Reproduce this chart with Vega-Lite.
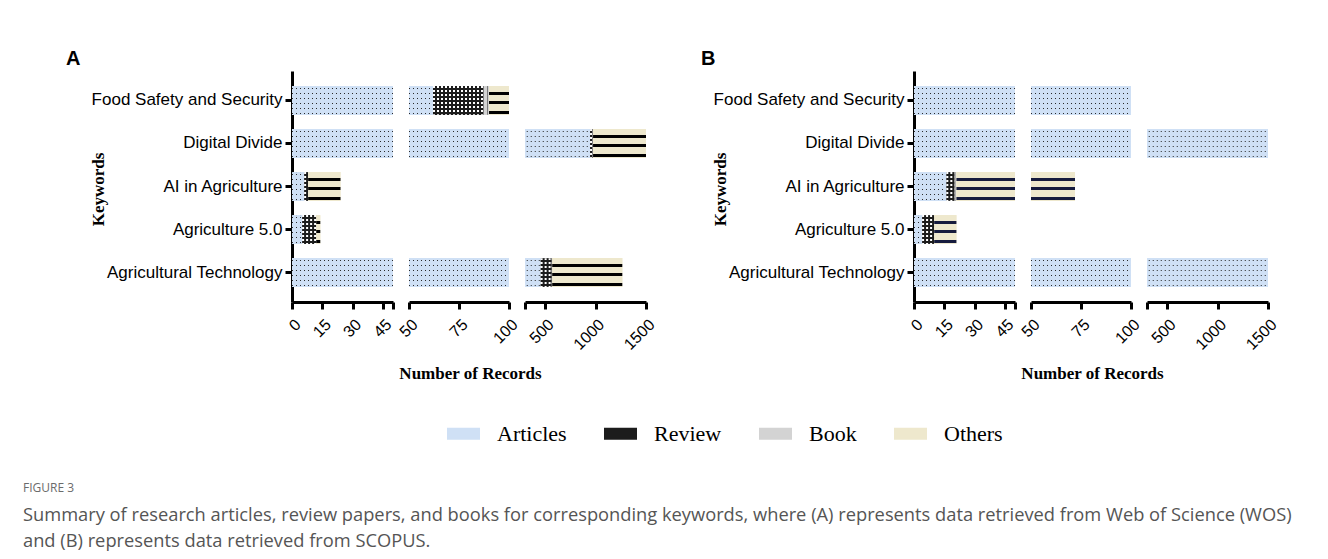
{
  "$schema": "https://vega.github.io/schema/vega-lite/v6.json",
  "background": "white",
  "padding": {"left": 23, "top": 49, "right": 5, "bottom": 5},
  "datasets": {
    "records": [
      {"panel": "A", "keyword": "Food Safety and Security", "type": "Articles", "count": 62},
      {"panel": "A", "keyword": "Food Safety and Security", "type": "Review", "count": 25},
      {"panel": "A", "keyword": "Food Safety and Security", "type": "Book", "count": 3},
      {"panel": "A", "keyword": "Food Safety and Security", "type": "Others", "count": 10},
      {"panel": "A", "keyword": "Digital Divide", "type": "Articles", "count": 945},
      {"panel": "A", "keyword": "Digital Divide", "type": "Review", "count": 20},
      {"panel": "A", "keyword": "Digital Divide", "type": "Book", "count": 10},
      {"panel": "A", "keyword": "Digital Divide", "type": "Others", "count": 525},
      {"panel": "A", "keyword": "AI in Agriculture", "type": "Articles", "count": 6},
      {"panel": "A", "keyword": "AI in Agriculture", "type": "Review", "count": 2},
      {"panel": "A", "keyword": "AI in Agriculture", "type": "Others", "count": 16},
      {"panel": "A", "keyword": "Agriculture 5.0", "type": "Articles", "count": 5},
      {"panel": "A", "keyword": "Agriculture 5.0", "type": "Review", "count": 7},
      {"panel": "A", "keyword": "Agriculture 5.0", "type": "Others", "count": 2},
      {"panel": "A", "keyword": "Agricultural Technology", "type": "Articles", "count": 455},
      {"panel": "A", "keyword": "Agricultural Technology", "type": "Review", "count": 110},
      {"panel": "A", "keyword": "Agricultural Technology", "type": "Book", "count": 5},
      {"panel": "A", "keyword": "Agricultural Technology", "type": "Others", "count": 695},
      {"panel": "B", "keyword": "Food Safety and Security", "type": "Articles", "count": 100},
      {"panel": "B", "keyword": "Digital Divide", "type": "Articles", "count": 1500},
      {"panel": "B", "keyword": "AI in Agriculture", "type": "Articles", "count": 16},
      {"panel": "B", "keyword": "AI in Agriculture", "type": "Review", "count": 4},
      {"panel": "B", "keyword": "AI in Agriculture", "type": "Book", "count": 1},
      {"panel": "B", "keyword": "AI in Agriculture", "type": "Others", "count": 51},
      {"panel": "B", "keyword": "Agriculture 5.0", "type": "Articles", "count": 4},
      {"panel": "B", "keyword": "Agriculture 5.0", "type": "Review", "count": 6},
      {"panel": "B", "keyword": "Agriculture 5.0", "type": "Others", "count": 11},
      {"panel": "B", "keyword": "Agricultural Technology", "type": "Articles", "count": 1500}
    ]
  },
  "data": {"name": "records"},
  "transform": [
    {"calculate": "indexof(['Articles','Review','Book','Others'], datum.type)", "as": "ord"},
    {"stack": "count", "groupby": ["panel", "keyword"], "sort": [{"field": "ord", "order": "ascending"}], "as": ["x0", "x1"]}
  ],
  "title": {
    "text": "FIGURE 3",
    "subtitle": ["Summary of research articles, review papers, and books for corresponding keywords, where (A) represents data retrieved from Web of Science (WOS)", "and (B) represents data retrieved from SCOPUS."],
    "orient": "bottom", "anchor": "start", "frame": "bounds",
    "font": "Open Sans", "fontSize": 12, "fontWeight": "normal", "color": "#6b6b6b",
    "subtitleFont": "Open Sans", "subtitleFontSize": 18.3, "subtitleColor": "#555555", "subtitleLineHeight": 26, "subtitlePadding": 12,
    "offset": 38, "dx": -43
  },
  "spacing": 43,
  "hconcat": [
    {
      "title": {"text": "A", "anchor": "start", "frame": "bounds", "font": "Liberation Sans", "fontSize": 20, "fontWeight": "bold", "color": "#000", "baseline": "alphabetic", "offset": -14, "dx": -23},
      "bounds": "flush",
      "spacing": 16,
      "hconcat": [
        {
          "width": 101, "height": 231,
          "transform": [{"filter": "datum.panel === 'A'"}],
          "encoding": {
            "y": {"field": "keyword", "type": "nominal", "sort": ["Food Safety and Security", "Digital Divide", "AI in Agriculture", "Agriculture 5.0", "Agricultural Technology"], "scale": {"paddingInner": 0.33, "paddingOuter": 0.35},
                  "axis": {"title": "Keywords", "titleX": -185, "titleY": 118, "titleAlign": "center", "titleBaseline": "bottom"}},
            "x": {"field": "x0", "type": "quantitative", "scale": {"domain": [0, 50], "nice": false, "zero": false},
                  "axis": {"values": [0, 15, 30, 45, 50], "format": "d", "labelExpr": "datum.value == 50 ? '' : datum.label", "title": null}},
            "x2": {"field": "x1"}
          },
          "layer": [
            {"mark": {"type": "bar", "clip": true}, "encoding": {"color": {"field": "type", "type": "nominal", "scale": {"domain": ["Articles", "Review", "Book", "Others"], "range": ["#cfe0f5", "#1c1c1c", "#d3d3d3", "#eee8cd"]}, "legend": {"orient": "none", "legendX": 155, "legendY": 346, "direction": "horizontal", "title": null}}}},
            {"transform": [{"filter": "datum.type === 'Articles'"}], "mark": {"type": "rule", "clip": true, "strokeWidth": 28.8, "strokeDash": [1, 3], "color": "#2a2a2a"}},
            {"transform": [{"filter": "datum.type === 'Articles'"}], "mark": {"type": "bar", "clip": true, "color": {"gradient": "linear", "x1": 0, "y1": 0, "x2": 0, "y2": 1, "stops": [{"offset": 0, "color": "#cfe0f5"}, {"offset": 0.07, "color": "#cfe0f5"}, {"offset": 0.07, "color": "rgba(207,224,245,0)"}, {"offset": 0.105, "color": "rgba(207,224,245,0)"}, {"offset": 0.105, "color": "#cfe0f5"}, {"offset": 0.24, "color": "#cfe0f5"}, {"offset": 0.24, "color": "rgba(207,224,245,0)"}, {"offset": 0.275, "color": "rgba(207,224,245,0)"}, {"offset": 0.275, "color": "#cfe0f5"}, {"offset": 0.415, "color": "#cfe0f5"}, {"offset": 0.415, "color": "rgba(207,224,245,0)"}, {"offset": 0.45, "color": "rgba(207,224,245,0)"}, {"offset": 0.45, "color": "#cfe0f5"}, {"offset": 0.59, "color": "#cfe0f5"}, {"offset": 0.59, "color": "rgba(207,224,245,0)"}, {"offset": 0.625, "color": "rgba(207,224,245,0)"}, {"offset": 0.625, "color": "#cfe0f5"}, {"offset": 0.76, "color": "#cfe0f5"}, {"offset": 0.76, "color": "rgba(207,224,245,0)"}, {"offset": 0.795, "color": "rgba(207,224,245,0)"}, {"offset": 0.795, "color": "#cfe0f5"}, {"offset": 0.935, "color": "#cfe0f5"}, {"offset": 0.935, "color": "rgba(207,224,245,0)"}, {"offset": 0.97, "color": "rgba(207,224,245,0)"}, {"offset": 0.97, "color": "#cfe0f5"}, {"offset": 1, "color": "#cfe0f5"}]}}},
            {"transform": [{"filter": "datum.type === 'Review'"}], "mark": {"type": "rule", "clip": true, "strokeWidth": 28.8, "strokeDash": [2, 2], "color": "#ffffff"}},
            {"transform": [{"filter": "datum.type === 'Review'"}], "mark": {"type": "bar", "clip": true, "color": {"gradient": "linear", "x1": 0, "y1": 0, "x2": 0, "y2": 1, "stops": [{"offset": 0, "color": "rgba(28,28,28,0)"}, {"offset": 0.069, "color": "rgba(28,28,28,0)"}, {"offset": 0.069, "color": "#1c1c1c"}, {"offset": 0.139, "color": "#1c1c1c"}, {"offset": 0.139, "color": "rgba(28,28,28,0)"}, {"offset": 0.208, "color": "rgba(28,28,28,0)"}, {"offset": 0.208, "color": "#1c1c1c"}, {"offset": 0.278, "color": "#1c1c1c"}, {"offset": 0.278, "color": "rgba(28,28,28,0)"}, {"offset": 0.347, "color": "rgba(28,28,28,0)"}, {"offset": 0.347, "color": "#1c1c1c"}, {"offset": 0.417, "color": "#1c1c1c"}, {"offset": 0.417, "color": "rgba(28,28,28,0)"}, {"offset": 0.486, "color": "rgba(28,28,28,0)"}, {"offset": 0.486, "color": "#1c1c1c"}, {"offset": 0.556, "color": "#1c1c1c"}, {"offset": 0.556, "color": "rgba(28,28,28,0)"}, {"offset": 0.625, "color": "rgba(28,28,28,0)"}, {"offset": 0.625, "color": "#1c1c1c"}, {"offset": 0.694, "color": "#1c1c1c"}, {"offset": 0.694, "color": "rgba(28,28,28,0)"}, {"offset": 0.764, "color": "rgba(28,28,28,0)"}, {"offset": 0.764, "color": "#1c1c1c"}, {"offset": 0.833, "color": "#1c1c1c"}, {"offset": 0.833, "color": "rgba(28,28,28,0)"}, {"offset": 0.903, "color": "rgba(28,28,28,0)"}, {"offset": 0.903, "color": "#1c1c1c"}, {"offset": 0.972, "color": "#1c1c1c"}, {"offset": 0.972, "color": "rgba(28,28,28,0)"}, {"offset": 1, "color": "rgba(28,28,28,0)"}]}}},
            {"transform": [{"filter": "datum.type === 'Book'"}], "mark": {"type": "rule", "clip": true, "strokeWidth": 28.8, "strokeDash": [1, 3], "color": "#7a7a7a"}},
            {"transform": [{"filter": "datum.type === 'Others'"}], "mark": {"type": "bar", "clip": true, "color": {"gradient": "linear", "x1": 0, "y1": 0, "x2": 0, "y2": 1, "stops": [{"offset": 0, "color": "#eee8cd"}, {"offset": 0.19, "color": "#eee8cd"}, {"offset": 0.19, "color": "#000000"}, {"offset": 0.31, "color": "#000000"}, {"offset": 0.31, "color": "#eee8cd"}, {"offset": 0.52, "color": "#eee8cd"}, {"offset": 0.52, "color": "#000000"}, {"offset": 0.63, "color": "#000000"}, {"offset": 0.63, "color": "#eee8cd"}, {"offset": 0.85, "color": "#eee8cd"}, {"offset": 0.85, "color": "#000000"}, {"offset": 0.96, "color": "#000000"}, {"offset": 0.96, "color": "#eee8cd"}, {"offset": 1, "color": "#eee8cd"}]}}}
          ]
        },
        {
          "width": 100, "height": 231,
          "transform": [{"filter": "datum.panel === 'A'"}],
          "encoding": {
            "y": {"field": "keyword", "type": "nominal", "sort": ["Food Safety and Security", "Digital Divide", "AI in Agriculture", "Agriculture 5.0", "Agricultural Technology"], "scale": {"paddingInner": 0.33, "paddingOuter": 0.35}, "axis": null},
            "x": {"field": "x0", "type": "quantitative", "scale": {"domain": [50, 100], "nice": false, "zero": false},
                  "axis": {"values": [50, 75, 100], "format": "d", "title": "Number of Records", "titleX": 61, "titleAlign": "center"}},
            "x2": {"field": "x1"}
          },
          "layer": [
            {"mark": {"type": "bar", "clip": true}, "encoding": {"color": {"field": "type", "type": "nominal", "scale": {"domain": ["Articles", "Review", "Book", "Others"], "range": ["#cfe0f5", "#1c1c1c", "#d3d3d3", "#eee8cd"]}, "legend": {"orient": "none", "legendX": 155, "legendY": 346, "direction": "horizontal", "title": null}}}},
            {"transform": [{"filter": "datum.type === 'Articles'"}], "mark": {"type": "rule", "clip": true, "strokeWidth": 28.8, "strokeDash": [1, 3], "color": "#2a2a2a"}},
            {"transform": [{"filter": "datum.type === 'Articles'"}], "mark": {"type": "bar", "clip": true, "color": {"gradient": "linear", "x1": 0, "y1": 0, "x2": 0, "y2": 1, "stops": [{"offset": 0, "color": "#cfe0f5"}, {"offset": 0.07, "color": "#cfe0f5"}, {"offset": 0.07, "color": "rgba(207,224,245,0)"}, {"offset": 0.105, "color": "rgba(207,224,245,0)"}, {"offset": 0.105, "color": "#cfe0f5"}, {"offset": 0.24, "color": "#cfe0f5"}, {"offset": 0.24, "color": "rgba(207,224,245,0)"}, {"offset": 0.275, "color": "rgba(207,224,245,0)"}, {"offset": 0.275, "color": "#cfe0f5"}, {"offset": 0.415, "color": "#cfe0f5"}, {"offset": 0.415, "color": "rgba(207,224,245,0)"}, {"offset": 0.45, "color": "rgba(207,224,245,0)"}, {"offset": 0.45, "color": "#cfe0f5"}, {"offset": 0.59, "color": "#cfe0f5"}, {"offset": 0.59, "color": "rgba(207,224,245,0)"}, {"offset": 0.625, "color": "rgba(207,224,245,0)"}, {"offset": 0.625, "color": "#cfe0f5"}, {"offset": 0.76, "color": "#cfe0f5"}, {"offset": 0.76, "color": "rgba(207,224,245,0)"}, {"offset": 0.795, "color": "rgba(207,224,245,0)"}, {"offset": 0.795, "color": "#cfe0f5"}, {"offset": 0.935, "color": "#cfe0f5"}, {"offset": 0.935, "color": "rgba(207,224,245,0)"}, {"offset": 0.97, "color": "rgba(207,224,245,0)"}, {"offset": 0.97, "color": "#cfe0f5"}, {"offset": 1, "color": "#cfe0f5"}]}}},
            {"transform": [{"filter": "datum.type === 'Review'"}], "mark": {"type": "rule", "clip": true, "strokeWidth": 28.8, "strokeDash": [2, 2], "color": "#ffffff"}},
            {"transform": [{"filter": "datum.type === 'Review'"}], "mark": {"type": "bar", "clip": true, "color": {"gradient": "linear", "x1": 0, "y1": 0, "x2": 0, "y2": 1, "stops": [{"offset": 0, "color": "rgba(28,28,28,0)"}, {"offset": 0.069, "color": "rgba(28,28,28,0)"}, {"offset": 0.069, "color": "#1c1c1c"}, {"offset": 0.139, "color": "#1c1c1c"}, {"offset": 0.139, "color": "rgba(28,28,28,0)"}, {"offset": 0.208, "color": "rgba(28,28,28,0)"}, {"offset": 0.208, "color": "#1c1c1c"}, {"offset": 0.278, "color": "#1c1c1c"}, {"offset": 0.278, "color": "rgba(28,28,28,0)"}, {"offset": 0.347, "color": "rgba(28,28,28,0)"}, {"offset": 0.347, "color": "#1c1c1c"}, {"offset": 0.417, "color": "#1c1c1c"}, {"offset": 0.417, "color": "rgba(28,28,28,0)"}, {"offset": 0.486, "color": "rgba(28,28,28,0)"}, {"offset": 0.486, "color": "#1c1c1c"}, {"offset": 0.556, "color": "#1c1c1c"}, {"offset": 0.556, "color": "rgba(28,28,28,0)"}, {"offset": 0.625, "color": "rgba(28,28,28,0)"}, {"offset": 0.625, "color": "#1c1c1c"}, {"offset": 0.694, "color": "#1c1c1c"}, {"offset": 0.694, "color": "rgba(28,28,28,0)"}, {"offset": 0.764, "color": "rgba(28,28,28,0)"}, {"offset": 0.764, "color": "#1c1c1c"}, {"offset": 0.833, "color": "#1c1c1c"}, {"offset": 0.833, "color": "rgba(28,28,28,0)"}, {"offset": 0.903, "color": "rgba(28,28,28,0)"}, {"offset": 0.903, "color": "#1c1c1c"}, {"offset": 0.972, "color": "#1c1c1c"}, {"offset": 0.972, "color": "rgba(28,28,28,0)"}, {"offset": 1, "color": "rgba(28,28,28,0)"}]}}},
            {"transform": [{"filter": "datum.type === 'Book'"}], "mark": {"type": "rule", "clip": true, "strokeWidth": 28.8, "strokeDash": [1, 3], "color": "#7a7a7a"}},
            {"transform": [{"filter": "datum.type === 'Others'"}], "mark": {"type": "bar", "clip": true, "color": {"gradient": "linear", "x1": 0, "y1": 0, "x2": 0, "y2": 1, "stops": [{"offset": 0, "color": "#eee8cd"}, {"offset": 0.19, "color": "#eee8cd"}, {"offset": 0.19, "color": "#000000"}, {"offset": 0.31, "color": "#000000"}, {"offset": 0.31, "color": "#eee8cd"}, {"offset": 0.52, "color": "#eee8cd"}, {"offset": 0.52, "color": "#000000"}, {"offset": 0.63, "color": "#000000"}, {"offset": 0.63, "color": "#eee8cd"}, {"offset": 0.85, "color": "#eee8cd"}, {"offset": 0.85, "color": "#000000"}, {"offset": 0.96, "color": "#000000"}, {"offset": 0.96, "color": "#eee8cd"}, {"offset": 1, "color": "#eee8cd"}]}}}
          ]
        },
        {
          "width": 121, "height": 231,
          "transform": [{"filter": "datum.panel === 'A'"}],
          "encoding": {
            "y": {"field": "keyword", "type": "nominal", "sort": ["Food Safety and Security", "Digital Divide", "AI in Agriculture", "Agriculture 5.0", "Agricultural Technology"], "scale": {"paddingInner": 0.33, "paddingOuter": 0.35}, "axis": null},
            "x": {"field": "x0", "type": "quantitative", "scale": {"domain": [300, 1500], "nice": false, "zero": false},
                  "axis": {"values": [300, 500, 1000, 1500], "format": "d", "labelExpr": "datum.value == 300 ? '' : datum.label", "title": null}},
            "x2": {"field": "x1"}
          },
          "layer": [
            {"mark": {"type": "bar", "clip": true}, "encoding": {"color": {"field": "type", "type": "nominal", "scale": {"domain": ["Articles", "Review", "Book", "Others"], "range": ["#cfe0f5", "#1c1c1c", "#d3d3d3", "#eee8cd"]}, "legend": {"orient": "none", "legendX": 155, "legendY": 346, "direction": "horizontal", "title": null}}}},
            {"transform": [{"filter": "datum.type === 'Articles'"}], "mark": {"type": "rule", "clip": true, "strokeWidth": 28.8, "strokeDash": [1, 3], "color": "#2a2a2a"}},
            {"transform": [{"filter": "datum.type === 'Articles'"}], "mark": {"type": "bar", "clip": true, "color": {"gradient": "linear", "x1": 0, "y1": 0, "x2": 0, "y2": 1, "stops": [{"offset": 0, "color": "#cfe0f5"}, {"offset": 0.07, "color": "#cfe0f5"}, {"offset": 0.07, "color": "rgba(207,224,245,0)"}, {"offset": 0.105, "color": "rgba(207,224,245,0)"}, {"offset": 0.105, "color": "#cfe0f5"}, {"offset": 0.24, "color": "#cfe0f5"}, {"offset": 0.24, "color": "rgba(207,224,245,0)"}, {"offset": 0.275, "color": "rgba(207,224,245,0)"}, {"offset": 0.275, "color": "#cfe0f5"}, {"offset": 0.415, "color": "#cfe0f5"}, {"offset": 0.415, "color": "rgba(207,224,245,0)"}, {"offset": 0.45, "color": "rgba(207,224,245,0)"}, {"offset": 0.45, "color": "#cfe0f5"}, {"offset": 0.59, "color": "#cfe0f5"}, {"offset": 0.59, "color": "rgba(207,224,245,0)"}, {"offset": 0.625, "color": "rgba(207,224,245,0)"}, {"offset": 0.625, "color": "#cfe0f5"}, {"offset": 0.76, "color": "#cfe0f5"}, {"offset": 0.76, "color": "rgba(207,224,245,0)"}, {"offset": 0.795, "color": "rgba(207,224,245,0)"}, {"offset": 0.795, "color": "#cfe0f5"}, {"offset": 0.935, "color": "#cfe0f5"}, {"offset": 0.935, "color": "rgba(207,224,245,0)"}, {"offset": 0.97, "color": "rgba(207,224,245,0)"}, {"offset": 0.97, "color": "#cfe0f5"}, {"offset": 1, "color": "#cfe0f5"}]}}},
            {"transform": [{"filter": "datum.type === 'Review'"}], "mark": {"type": "rule", "clip": true, "strokeWidth": 28.8, "strokeDash": [2, 2], "color": "#ffffff"}},
            {"transform": [{"filter": "datum.type === 'Review'"}], "mark": {"type": "bar", "clip": true, "color": {"gradient": "linear", "x1": 0, "y1": 0, "x2": 0, "y2": 1, "stops": [{"offset": 0, "color": "rgba(28,28,28,0)"}, {"offset": 0.069, "color": "rgba(28,28,28,0)"}, {"offset": 0.069, "color": "#1c1c1c"}, {"offset": 0.139, "color": "#1c1c1c"}, {"offset": 0.139, "color": "rgba(28,28,28,0)"}, {"offset": 0.208, "color": "rgba(28,28,28,0)"}, {"offset": 0.208, "color": "#1c1c1c"}, {"offset": 0.278, "color": "#1c1c1c"}, {"offset": 0.278, "color": "rgba(28,28,28,0)"}, {"offset": 0.347, "color": "rgba(28,28,28,0)"}, {"offset": 0.347, "color": "#1c1c1c"}, {"offset": 0.417, "color": "#1c1c1c"}, {"offset": 0.417, "color": "rgba(28,28,28,0)"}, {"offset": 0.486, "color": "rgba(28,28,28,0)"}, {"offset": 0.486, "color": "#1c1c1c"}, {"offset": 0.556, "color": "#1c1c1c"}, {"offset": 0.556, "color": "rgba(28,28,28,0)"}, {"offset": 0.625, "color": "rgba(28,28,28,0)"}, {"offset": 0.625, "color": "#1c1c1c"}, {"offset": 0.694, "color": "#1c1c1c"}, {"offset": 0.694, "color": "rgba(28,28,28,0)"}, {"offset": 0.764, "color": "rgba(28,28,28,0)"}, {"offset": 0.764, "color": "#1c1c1c"}, {"offset": 0.833, "color": "#1c1c1c"}, {"offset": 0.833, "color": "rgba(28,28,28,0)"}, {"offset": 0.903, "color": "rgba(28,28,28,0)"}, {"offset": 0.903, "color": "#1c1c1c"}, {"offset": 0.972, "color": "#1c1c1c"}, {"offset": 0.972, "color": "rgba(28,28,28,0)"}, {"offset": 1, "color": "rgba(28,28,28,0)"}]}}},
            {"transform": [{"filter": "datum.type === 'Book'"}], "mark": {"type": "rule", "clip": true, "strokeWidth": 28.8, "strokeDash": [1, 3], "color": "#7a7a7a"}},
            {"transform": [{"filter": "datum.type === 'Others'"}], "mark": {"type": "bar", "clip": true, "color": {"gradient": "linear", "x1": 0, "y1": 0, "x2": 0, "y2": 1, "stops": [{"offset": 0, "color": "#eee8cd"}, {"offset": 0.19, "color": "#eee8cd"}, {"offset": 0.19, "color": "#000000"}, {"offset": 0.31, "color": "#000000"}, {"offset": 0.31, "color": "#eee8cd"}, {"offset": 0.52, "color": "#eee8cd"}, {"offset": 0.52, "color": "#000000"}, {"offset": 0.63, "color": "#000000"}, {"offset": 0.63, "color": "#eee8cd"}, {"offset": 0.85, "color": "#eee8cd"}, {"offset": 0.85, "color": "#000000"}, {"offset": 0.96, "color": "#000000"}, {"offset": 0.96, "color": "#eee8cd"}, {"offset": 1, "color": "#eee8cd"}]}}}
          ]
        }
      ]
    },
    {
      "title": {"text": "B", "anchor": "start", "frame": "bounds", "font": "Liberation Sans", "fontSize": 20, "fontWeight": "bold", "color": "#000", "baseline": "alphabetic", "offset": -14, "dx": -10},
      "bounds": "flush",
      "spacing": 16,
      "hconcat": [
        {
          "width": 101, "height": 231,
          "transform": [{"filter": "datum.panel === 'B'"}],
          "encoding": {
            "y": {"field": "keyword", "type": "nominal", "sort": ["Food Safety and Security", "Digital Divide", "AI in Agriculture", "Agriculture 5.0", "Agricultural Technology"], "scale": {"paddingInner": 0.33, "paddingOuter": 0.35},
                  "axis": {"title": "Keywords", "titleX": -185, "titleY": 118, "titleAlign": "center", "titleBaseline": "bottom"}},
            "x": {"field": "x0", "type": "quantitative", "scale": {"domain": [0, 50], "nice": false, "zero": false},
                  "axis": {"values": [0, 15, 30, 45, 50], "format": "d", "labelExpr": "datum.value == 50 ? '' : datum.label", "title": null}},
            "x2": {"field": "x1"}
          },
          "layer": [
            {"mark": {"type": "bar", "clip": true}, "encoding": {"color": {"field": "type", "type": "nominal", "scale": {"domain": ["Articles", "Review", "Book", "Others"], "range": ["#cfe0f5", "#1c1c1c", "#d3d3d3", "#eee8cd"]}, "legend": {"orient": "none", "legendX": 155, "legendY": 346, "direction": "horizontal", "title": null}}}},
            {"transform": [{"filter": "datum.type === 'Articles'"}], "mark": {"type": "rule", "clip": true, "strokeWidth": 28.8, "strokeDash": [1, 3], "color": "#2a2a2a"}},
            {"transform": [{"filter": "datum.type === 'Articles'"}], "mark": {"type": "bar", "clip": true, "color": {"gradient": "linear", "x1": 0, "y1": 0, "x2": 0, "y2": 1, "stops": [{"offset": 0, "color": "#cfe0f5"}, {"offset": 0.07, "color": "#cfe0f5"}, {"offset": 0.07, "color": "rgba(207,224,245,0)"}, {"offset": 0.105, "color": "rgba(207,224,245,0)"}, {"offset": 0.105, "color": "#cfe0f5"}, {"offset": 0.24, "color": "#cfe0f5"}, {"offset": 0.24, "color": "rgba(207,224,245,0)"}, {"offset": 0.275, "color": "rgba(207,224,245,0)"}, {"offset": 0.275, "color": "#cfe0f5"}, {"offset": 0.415, "color": "#cfe0f5"}, {"offset": 0.415, "color": "rgba(207,224,245,0)"}, {"offset": 0.45, "color": "rgba(207,224,245,0)"}, {"offset": 0.45, "color": "#cfe0f5"}, {"offset": 0.59, "color": "#cfe0f5"}, {"offset": 0.59, "color": "rgba(207,224,245,0)"}, {"offset": 0.625, "color": "rgba(207,224,245,0)"}, {"offset": 0.625, "color": "#cfe0f5"}, {"offset": 0.76, "color": "#cfe0f5"}, {"offset": 0.76, "color": "rgba(207,224,245,0)"}, {"offset": 0.795, "color": "rgba(207,224,245,0)"}, {"offset": 0.795, "color": "#cfe0f5"}, {"offset": 0.935, "color": "#cfe0f5"}, {"offset": 0.935, "color": "rgba(207,224,245,0)"}, {"offset": 0.97, "color": "rgba(207,224,245,0)"}, {"offset": 0.97, "color": "#cfe0f5"}, {"offset": 1, "color": "#cfe0f5"}]}}},
            {"transform": [{"filter": "datum.type === 'Review'"}], "mark": {"type": "rule", "clip": true, "strokeWidth": 28.8, "strokeDash": [2, 2], "color": "#ffffff"}},
            {"transform": [{"filter": "datum.type === 'Review'"}], "mark": {"type": "bar", "clip": true, "color": {"gradient": "linear", "x1": 0, "y1": 0, "x2": 0, "y2": 1, "stops": [{"offset": 0, "color": "rgba(28,28,28,0)"}, {"offset": 0.069, "color": "rgba(28,28,28,0)"}, {"offset": 0.069, "color": "#1c1c1c"}, {"offset": 0.139, "color": "#1c1c1c"}, {"offset": 0.139, "color": "rgba(28,28,28,0)"}, {"offset": 0.208, "color": "rgba(28,28,28,0)"}, {"offset": 0.208, "color": "#1c1c1c"}, {"offset": 0.278, "color": "#1c1c1c"}, {"offset": 0.278, "color": "rgba(28,28,28,0)"}, {"offset": 0.347, "color": "rgba(28,28,28,0)"}, {"offset": 0.347, "color": "#1c1c1c"}, {"offset": 0.417, "color": "#1c1c1c"}, {"offset": 0.417, "color": "rgba(28,28,28,0)"}, {"offset": 0.486, "color": "rgba(28,28,28,0)"}, {"offset": 0.486, "color": "#1c1c1c"}, {"offset": 0.556, "color": "#1c1c1c"}, {"offset": 0.556, "color": "rgba(28,28,28,0)"}, {"offset": 0.625, "color": "rgba(28,28,28,0)"}, {"offset": 0.625, "color": "#1c1c1c"}, {"offset": 0.694, "color": "#1c1c1c"}, {"offset": 0.694, "color": "rgba(28,28,28,0)"}, {"offset": 0.764, "color": "rgba(28,28,28,0)"}, {"offset": 0.764, "color": "#1c1c1c"}, {"offset": 0.833, "color": "#1c1c1c"}, {"offset": 0.833, "color": "rgba(28,28,28,0)"}, {"offset": 0.903, "color": "rgba(28,28,28,0)"}, {"offset": 0.903, "color": "#1c1c1c"}, {"offset": 0.972, "color": "#1c1c1c"}, {"offset": 0.972, "color": "rgba(28,28,28,0)"}, {"offset": 1, "color": "rgba(28,28,28,0)"}]}}},
            {"transform": [{"filter": "datum.type === 'Book'"}], "mark": {"type": "rule", "clip": true, "strokeWidth": 28.8, "strokeDash": [1, 3], "color": "#7a7a7a"}},
            {"transform": [{"filter": "datum.type === 'Others'"}], "mark": {"type": "bar", "clip": true, "color": {"gradient": "linear", "x1": 0, "y1": 0, "x2": 0, "y2": 1, "stops": [{"offset": 0, "color": "#eee8cd"}, {"offset": 0.19, "color": "#eee8cd"}, {"offset": 0.19, "color": "#161b3d"}, {"offset": 0.31, "color": "#161b3d"}, {"offset": 0.31, "color": "#eee8cd"}, {"offset": 0.52, "color": "#eee8cd"}, {"offset": 0.52, "color": "#161b3d"}, {"offset": 0.63, "color": "#161b3d"}, {"offset": 0.63, "color": "#eee8cd"}, {"offset": 0.85, "color": "#eee8cd"}, {"offset": 0.85, "color": "#161b3d"}, {"offset": 0.96, "color": "#161b3d"}, {"offset": 0.96, "color": "#eee8cd"}, {"offset": 1, "color": "#eee8cd"}]}}}
          ]
        },
        {
          "width": 100, "height": 231,
          "transform": [{"filter": "datum.panel === 'B'"}],
          "encoding": {
            "y": {"field": "keyword", "type": "nominal", "sort": ["Food Safety and Security", "Digital Divide", "AI in Agriculture", "Agriculture 5.0", "Agricultural Technology"], "scale": {"paddingInner": 0.33, "paddingOuter": 0.35}, "axis": null},
            "x": {"field": "x0", "type": "quantitative", "scale": {"domain": [50, 100], "nice": false, "zero": false},
                  "axis": {"values": [50, 75, 100], "format": "d", "title": "Number of Records", "titleX": 61, "titleAlign": "center"}},
            "x2": {"field": "x1"}
          },
          "layer": [
            {"mark": {"type": "bar", "clip": true}, "encoding": {"color": {"field": "type", "type": "nominal", "scale": {"domain": ["Articles", "Review", "Book", "Others"], "range": ["#cfe0f5", "#1c1c1c", "#d3d3d3", "#eee8cd"]}, "legend": {"orient": "none", "legendX": 155, "legendY": 346, "direction": "horizontal", "title": null}}}},
            {"transform": [{"filter": "datum.type === 'Articles'"}], "mark": {"type": "rule", "clip": true, "strokeWidth": 28.8, "strokeDash": [1, 3], "color": "#2a2a2a"}},
            {"transform": [{"filter": "datum.type === 'Articles'"}], "mark": {"type": "bar", "clip": true, "color": {"gradient": "linear", "x1": 0, "y1": 0, "x2": 0, "y2": 1, "stops": [{"offset": 0, "color": "#cfe0f5"}, {"offset": 0.07, "color": "#cfe0f5"}, {"offset": 0.07, "color": "rgba(207,224,245,0)"}, {"offset": 0.105, "color": "rgba(207,224,245,0)"}, {"offset": 0.105, "color": "#cfe0f5"}, {"offset": 0.24, "color": "#cfe0f5"}, {"offset": 0.24, "color": "rgba(207,224,245,0)"}, {"offset": 0.275, "color": "rgba(207,224,245,0)"}, {"offset": 0.275, "color": "#cfe0f5"}, {"offset": 0.415, "color": "#cfe0f5"}, {"offset": 0.415, "color": "rgba(207,224,245,0)"}, {"offset": 0.45, "color": "rgba(207,224,245,0)"}, {"offset": 0.45, "color": "#cfe0f5"}, {"offset": 0.59, "color": "#cfe0f5"}, {"offset": 0.59, "color": "rgba(207,224,245,0)"}, {"offset": 0.625, "color": "rgba(207,224,245,0)"}, {"offset": 0.625, "color": "#cfe0f5"}, {"offset": 0.76, "color": "#cfe0f5"}, {"offset": 0.76, "color": "rgba(207,224,245,0)"}, {"offset": 0.795, "color": "rgba(207,224,245,0)"}, {"offset": 0.795, "color": "#cfe0f5"}, {"offset": 0.935, "color": "#cfe0f5"}, {"offset": 0.935, "color": "rgba(207,224,245,0)"}, {"offset": 0.97, "color": "rgba(207,224,245,0)"}, {"offset": 0.97, "color": "#cfe0f5"}, {"offset": 1, "color": "#cfe0f5"}]}}},
            {"transform": [{"filter": "datum.type === 'Review'"}], "mark": {"type": "rule", "clip": true, "strokeWidth": 28.8, "strokeDash": [2, 2], "color": "#ffffff"}},
            {"transform": [{"filter": "datum.type === 'Review'"}], "mark": {"type": "bar", "clip": true, "color": {"gradient": "linear", "x1": 0, "y1": 0, "x2": 0, "y2": 1, "stops": [{"offset": 0, "color": "rgba(28,28,28,0)"}, {"offset": 0.069, "color": "rgba(28,28,28,0)"}, {"offset": 0.069, "color": "#1c1c1c"}, {"offset": 0.139, "color": "#1c1c1c"}, {"offset": 0.139, "color": "rgba(28,28,28,0)"}, {"offset": 0.208, "color": "rgba(28,28,28,0)"}, {"offset": 0.208, "color": "#1c1c1c"}, {"offset": 0.278, "color": "#1c1c1c"}, {"offset": 0.278, "color": "rgba(28,28,28,0)"}, {"offset": 0.347, "color": "rgba(28,28,28,0)"}, {"offset": 0.347, "color": "#1c1c1c"}, {"offset": 0.417, "color": "#1c1c1c"}, {"offset": 0.417, "color": "rgba(28,28,28,0)"}, {"offset": 0.486, "color": "rgba(28,28,28,0)"}, {"offset": 0.486, "color": "#1c1c1c"}, {"offset": 0.556, "color": "#1c1c1c"}, {"offset": 0.556, "color": "rgba(28,28,28,0)"}, {"offset": 0.625, "color": "rgba(28,28,28,0)"}, {"offset": 0.625, "color": "#1c1c1c"}, {"offset": 0.694, "color": "#1c1c1c"}, {"offset": 0.694, "color": "rgba(28,28,28,0)"}, {"offset": 0.764, "color": "rgba(28,28,28,0)"}, {"offset": 0.764, "color": "#1c1c1c"}, {"offset": 0.833, "color": "#1c1c1c"}, {"offset": 0.833, "color": "rgba(28,28,28,0)"}, {"offset": 0.903, "color": "rgba(28,28,28,0)"}, {"offset": 0.903, "color": "#1c1c1c"}, {"offset": 0.972, "color": "#1c1c1c"}, {"offset": 0.972, "color": "rgba(28,28,28,0)"}, {"offset": 1, "color": "rgba(28,28,28,0)"}]}}},
            {"transform": [{"filter": "datum.type === 'Book'"}], "mark": {"type": "rule", "clip": true, "strokeWidth": 28.8, "strokeDash": [1, 3], "color": "#7a7a7a"}},
            {"transform": [{"filter": "datum.type === 'Others'"}], "mark": {"type": "bar", "clip": true, "color": {"gradient": "linear", "x1": 0, "y1": 0, "x2": 0, "y2": 1, "stops": [{"offset": 0, "color": "#eee8cd"}, {"offset": 0.19, "color": "#eee8cd"}, {"offset": 0.19, "color": "#161b3d"}, {"offset": 0.31, "color": "#161b3d"}, {"offset": 0.31, "color": "#eee8cd"}, {"offset": 0.52, "color": "#eee8cd"}, {"offset": 0.52, "color": "#161b3d"}, {"offset": 0.63, "color": "#161b3d"}, {"offset": 0.63, "color": "#eee8cd"}, {"offset": 0.85, "color": "#eee8cd"}, {"offset": 0.85, "color": "#161b3d"}, {"offset": 0.96, "color": "#161b3d"}, {"offset": 0.96, "color": "#eee8cd"}, {"offset": 1, "color": "#eee8cd"}]}}}
          ]
        },
        {
          "width": 121, "height": 231,
          "transform": [{"filter": "datum.panel === 'B'"}],
          "encoding": {
            "y": {"field": "keyword", "type": "nominal", "sort": ["Food Safety and Security", "Digital Divide", "AI in Agriculture", "Agriculture 5.0", "Agricultural Technology"], "scale": {"paddingInner": 0.33, "paddingOuter": 0.35}, "axis": null},
            "x": {"field": "x0", "type": "quantitative", "scale": {"domain": [300, 1500], "nice": false, "zero": false},
                  "axis": {"values": [300, 500, 1000, 1500], "format": "d", "labelExpr": "datum.value == 300 ? '' : datum.label", "title": null}},
            "x2": {"field": "x1"}
          },
          "layer": [
            {"mark": {"type": "bar", "clip": true}, "encoding": {"color": {"field": "type", "type": "nominal", "scale": {"domain": ["Articles", "Review", "Book", "Others"], "range": ["#cfe0f5", "#1c1c1c", "#d3d3d3", "#eee8cd"]}, "legend": {"orient": "none", "legendX": 155, "legendY": 346, "direction": "horizontal", "title": null}}}},
            {"transform": [{"filter": "datum.type === 'Articles'"}], "mark": {"type": "rule", "clip": true, "strokeWidth": 28.8, "strokeDash": [1, 3], "color": "#2a2a2a"}},
            {"transform": [{"filter": "datum.type === 'Articles'"}], "mark": {"type": "bar", "clip": true, "color": {"gradient": "linear", "x1": 0, "y1": 0, "x2": 0, "y2": 1, "stops": [{"offset": 0, "color": "#cfe0f5"}, {"offset": 0.07, "color": "#cfe0f5"}, {"offset": 0.07, "color": "rgba(207,224,245,0)"}, {"offset": 0.105, "color": "rgba(207,224,245,0)"}, {"offset": 0.105, "color": "#cfe0f5"}, {"offset": 0.24, "color": "#cfe0f5"}, {"offset": 0.24, "color": "rgba(207,224,245,0)"}, {"offset": 0.275, "color": "rgba(207,224,245,0)"}, {"offset": 0.275, "color": "#cfe0f5"}, {"offset": 0.415, "color": "#cfe0f5"}, {"offset": 0.415, "color": "rgba(207,224,245,0)"}, {"offset": 0.45, "color": "rgba(207,224,245,0)"}, {"offset": 0.45, "color": "#cfe0f5"}, {"offset": 0.59, "color": "#cfe0f5"}, {"offset": 0.59, "color": "rgba(207,224,245,0)"}, {"offset": 0.625, "color": "rgba(207,224,245,0)"}, {"offset": 0.625, "color": "#cfe0f5"}, {"offset": 0.76, "color": "#cfe0f5"}, {"offset": 0.76, "color": "rgba(207,224,245,0)"}, {"offset": 0.795, "color": "rgba(207,224,245,0)"}, {"offset": 0.795, "color": "#cfe0f5"}, {"offset": 0.935, "color": "#cfe0f5"}, {"offset": 0.935, "color": "rgba(207,224,245,0)"}, {"offset": 0.97, "color": "rgba(207,224,245,0)"}, {"offset": 0.97, "color": "#cfe0f5"}, {"offset": 1, "color": "#cfe0f5"}]}}},
            {"transform": [{"filter": "datum.type === 'Review'"}], "mark": {"type": "rule", "clip": true, "strokeWidth": 28.8, "strokeDash": [2, 2], "color": "#ffffff"}},
            {"transform": [{"filter": "datum.type === 'Review'"}], "mark": {"type": "bar", "clip": true, "color": {"gradient": "linear", "x1": 0, "y1": 0, "x2": 0, "y2": 1, "stops": [{"offset": 0, "color": "rgba(28,28,28,0)"}, {"offset": 0.069, "color": "rgba(28,28,28,0)"}, {"offset": 0.069, "color": "#1c1c1c"}, {"offset": 0.139, "color": "#1c1c1c"}, {"offset": 0.139, "color": "rgba(28,28,28,0)"}, {"offset": 0.208, "color": "rgba(28,28,28,0)"}, {"offset": 0.208, "color": "#1c1c1c"}, {"offset": 0.278, "color": "#1c1c1c"}, {"offset": 0.278, "color": "rgba(28,28,28,0)"}, {"offset": 0.347, "color": "rgba(28,28,28,0)"}, {"offset": 0.347, "color": "#1c1c1c"}, {"offset": 0.417, "color": "#1c1c1c"}, {"offset": 0.417, "color": "rgba(28,28,28,0)"}, {"offset": 0.486, "color": "rgba(28,28,28,0)"}, {"offset": 0.486, "color": "#1c1c1c"}, {"offset": 0.556, "color": "#1c1c1c"}, {"offset": 0.556, "color": "rgba(28,28,28,0)"}, {"offset": 0.625, "color": "rgba(28,28,28,0)"}, {"offset": 0.625, "color": "#1c1c1c"}, {"offset": 0.694, "color": "#1c1c1c"}, {"offset": 0.694, "color": "rgba(28,28,28,0)"}, {"offset": 0.764, "color": "rgba(28,28,28,0)"}, {"offset": 0.764, "color": "#1c1c1c"}, {"offset": 0.833, "color": "#1c1c1c"}, {"offset": 0.833, "color": "rgba(28,28,28,0)"}, {"offset": 0.903, "color": "rgba(28,28,28,0)"}, {"offset": 0.903, "color": "#1c1c1c"}, {"offset": 0.972, "color": "#1c1c1c"}, {"offset": 0.972, "color": "rgba(28,28,28,0)"}, {"offset": 1, "color": "rgba(28,28,28,0)"}]}}},
            {"transform": [{"filter": "datum.type === 'Book'"}], "mark": {"type": "rule", "clip": true, "strokeWidth": 28.8, "strokeDash": [1, 3], "color": "#7a7a7a"}},
            {"transform": [{"filter": "datum.type === 'Others'"}], "mark": {"type": "bar", "clip": true, "color": {"gradient": "linear", "x1": 0, "y1": 0, "x2": 0, "y2": 1, "stops": [{"offset": 0, "color": "#eee8cd"}, {"offset": 0.19, "color": "#eee8cd"}, {"offset": 0.19, "color": "#161b3d"}, {"offset": 0.31, "color": "#161b3d"}, {"offset": 0.31, "color": "#eee8cd"}, {"offset": 0.52, "color": "#eee8cd"}, {"offset": 0.52, "color": "#161b3d"}, {"offset": 0.63, "color": "#161b3d"}, {"offset": 0.63, "color": "#eee8cd"}, {"offset": 0.85, "color": "#eee8cd"}, {"offset": 0.85, "color": "#161b3d"}, {"offset": 0.96, "color": "#161b3d"}, {"offset": 0.96, "color": "#eee8cd"}, {"offset": 1, "color": "#eee8cd"}]}}}
          ]
        }
      ]
    }
  ],
  "config": {
    "view": {"stroke": null},
    "axisX": {"domainWidth": 3, "domainColor": "#000", "tickWidth": 3, "tickSize": 7, "tickColor": "#000", "labelAngle": -45, "labelFont": "Liberation Sans", "labelFontSize": 16, "labelColor": "#000", "labelPadding": 7, "labelOverlap": false, "grid": false, "titleFont": "Liberation Serif", "titleFontSize": 17, "titleFontWeight": "bold", "titleColor": "#000", "titlePadding": 19},
    "axisY": {"domainWidth": 3, "domainColor": "#000", "tickWidth": 3, "tickSize": 7, "tickColor": "#000", "labelFont": "Liberation Sans", "labelFontSize": 17, "labelColor": "#000", "labelPadding": 3, "labelLimit": 400, "grid": false, "titleFont": "Liberation Serif", "titleFontSize": 17, "titleFontWeight": "bold", "titleColor": "#000"},
    "legend": {"symbolType": "M-1,-0.36H1V0.36H-1Z", "symbolSize": 1089, "symbolStrokeWidth": 0, "labelFont": "Liberation Serif", "labelFontSize": 22, "labelColor": "#000", "labelOffset": 17, "columnPadding": 37, "labelLimit": 300}
  }
}
